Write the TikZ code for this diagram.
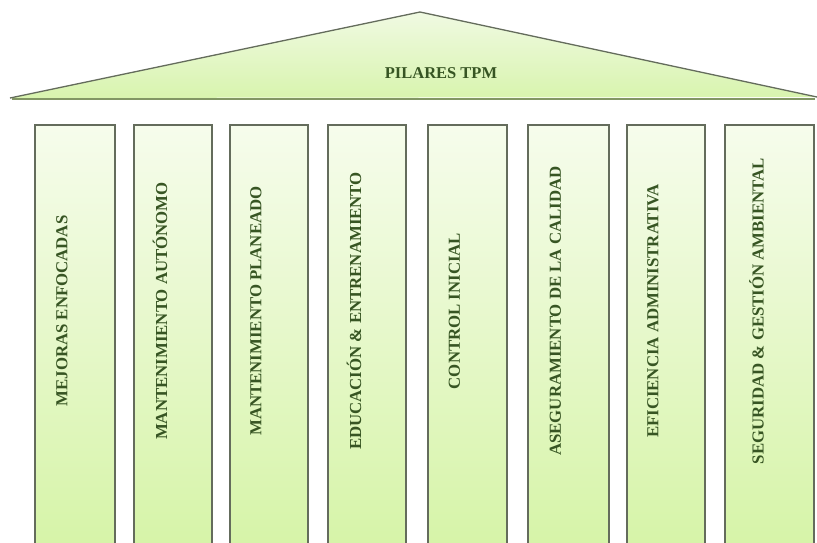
\documentclass[tikz,border=0pt]{standalone}
\usepackage{fontspec}
\setmainfont{Liberation Serif}
\definecolor{edgec}{RGB}{100,108,92}
\definecolor{txtc}{RGB}{55,85,35}
\definecolor{pilltop}{RGB}{246,252,236}
\definecolor{pillbot}{RGB}{214,244,168}
\definecolor{rooftop}{RGB}{240,250,226}
\definecolor{roofbot}{RGB}{216,244,174}
\begin{document}
\begin{tikzpicture}[x=1pt,y=-1pt,
  pillar/.style={draw=edgec,line width=1.4pt,top color=pilltop,bottom color=pillbot,shading angle=0},
  ptext/.style={rotate=90,text=txtc,font=\fontsize{16.8}{18}\selectfont\bfseries,inner sep=0pt},
  rooftext/.style={text=txtc,font=\fontsize{16.5}{18}\selectfont\bfseries,inner sep=0pt}]
\useasboundingbox (0,0) rectangle (817,542);
\fill[white] (0,0) rectangle (817,542);
% roof
\shade[top color=rooftop,bottom color=roofbot] (10,98) -- (420,12) -- (817,97) -- cycle;
\draw[edgec,line width=1.3pt,line join=round] (10,98) -- (420,12) -- (817,97);
\draw[draw={rgb,255:red,130;green,150;blue,100},line width=2pt] (12,98.5) -- (815,98.5);
\node[rooftext] (roof) at (441,73) {PILARES TPM};
% pillars
\foreach \i/\xa/\xb in {1/35/115,2/134/212,3/230/308,4/328/406,5/428/507,6/528/609,7/627/705,8/725/814}{
  \path[pillar] (\xa,125) rectangle (\xb,546);
  \coordinate (c\i) at ({(\xa+\xb)/2-13},311);
}
\node[ptext] (t1) at (c1) {MEJORAS ENFOCADAS};
\node[ptext] (t2) at (c2) {MANTENIMIENTO AUTÓNOMO};
\node[ptext] (t3) at (c3) {MANTENIMIENTO PLANEADO};
\node[ptext] (t4) at (c4) {EDUCACIÓN \& ENTRENAMIENTO};
\node[ptext] (t5) at (c5) {CONTROL INICIAL};
\node[ptext] (t6) at (c6) {ASEGURAMIENTO DE LA CALIDAD};
\node[ptext] (t7) at (c7) {EFICIENCIA ADMINISTRATIVA};
\node[ptext] (t8) at (c8) {SEGURIDAD \& GESTIÓN AMBIENTAL};
\end{tikzpicture}
\end{document}
